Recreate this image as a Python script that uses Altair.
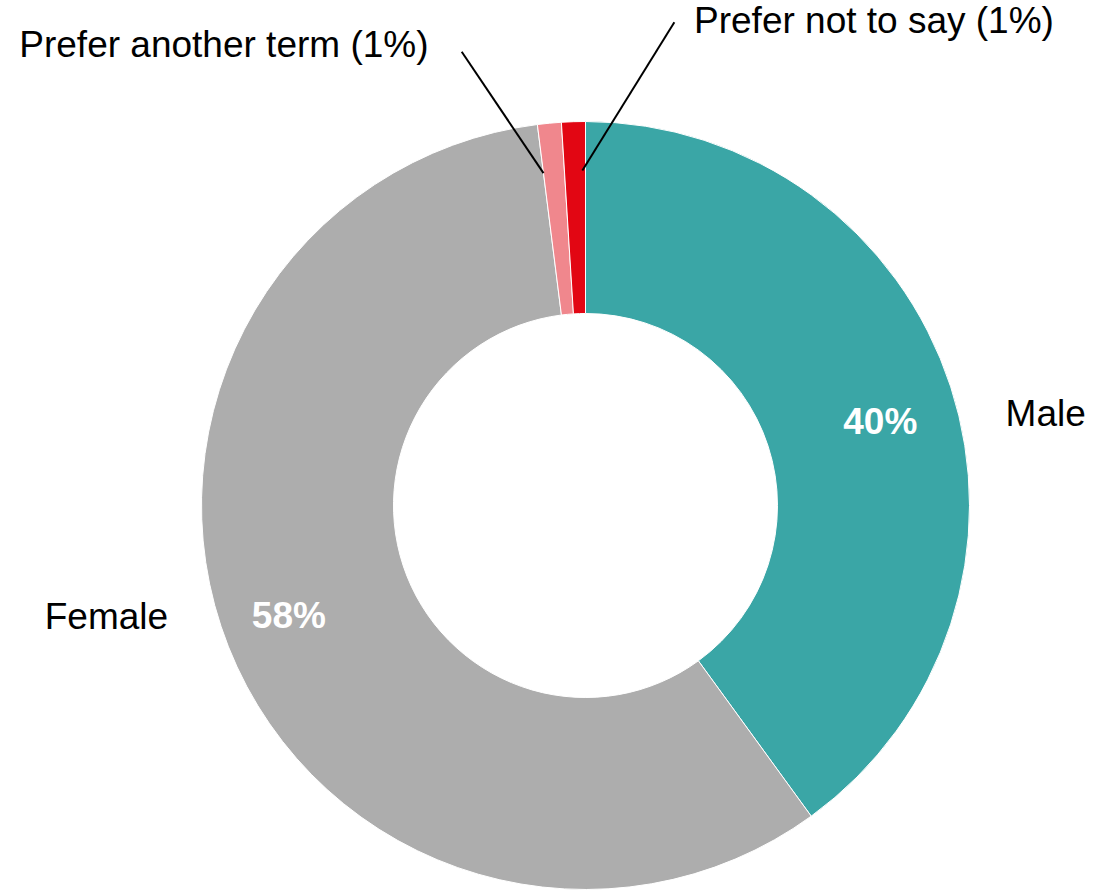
import math
import altair as alt
import pandas as pd

# ---- data ----
categories = ["Male", "Female", "Prefer another term", "Prefer not to say"]
values = [40, 58, 1, 1]
colors = ["#3AA6A6", "#ADADAD", "#F0878D", "#E20613"]

df = pd.DataFrame({"cat": categories, "value": values, "idx": list(range(len(categories)))})

# ---- layout ----
W, H = 1094, 891
CX, CY = 585.5, 505.5
R_OUT, R_IN = 384, 192
FONT = "Liberation Sans"
FS = 37

theta_scale = alt.Scale(domain=[0, 1], range=[0, 2 * math.pi])

base = (
    alt.Chart(df)
    .transform_window(cum="sum(value)", sort=[alt.SortField("idx", order="ascending")], frame=[None, 0])
    .transform_joinaggregate(total="sum(value)")
    .transform_calculate(
        start="(datum.cum - datum.value) / datum.total",
        end="datum.cum / datum.total",
        mid="(datum.cum - datum.value / 2) / datum.total",
        pct="format(datum.value / datum.total, '.0%')",
    )
    .transform_calculate(label="datum.cat + ' (' + datum.pct + ')'")
)

arcs = base.mark_arc(outerRadius=R_OUT, innerRadius=R_IN, stroke="white", strokeWidth=1).encode(
    theta=alt.Theta("start:Q", scale=theta_scale, stack=None),
    theta2=alt.Theta2("end:Q"),
    color=alt.Color("cat:N", scale=alt.Scale(domain=categories, range=colors), legend=None),
    x=alt.value(CX),
    y=alt.value(CY),
)


def polar_label(cat, field, radius, dx, dy, align, bold, color):
    return (
        base.transform_filter(alt.datum.cat == cat)
        .mark_text(
            radius=radius, dx=dx, dy=dy, align=align, baseline="alphabetic",
            font=FONT, fontSize=FS, fontWeight="bold" if bold else "normal", color=color,
        )
        .encode(
            theta=alt.Theta("mid:Q", scale=theta_scale, stack=None),
            text=alt.Text(f"{field}:N"),
            x=alt.value(CX),
            y=alt.value(CY),
        )
    )


def leader(cat, frac, r, edx, edy, ldx, ldy, align):
    b = (
        base.transform_filter(alt.datum.cat == cat)
        .transform_calculate(a=f"2*PI*(datum.start + {frac}*(datum.end - datum.start))")
        .transform_calculate(sx=f"{CX} + {r}*sin(datum.a)", sy=f"{CY} - {r}*cos(datum.a)")
        .transform_calculate(
            ex=f"datum.sx + ({edx})", ey=f"datum.sy + ({edy})",
            lx=f"datum.sx + ({ldx})", ly=f"datum.sy + ({ldy})",
        )
    )
    line = b.mark_rule(color="black", strokeWidth=2).encode(
        x=alt.X("sx:Q", scale=None, axis=None),
        y=alt.Y("sy:Q", scale=None, axis=None),
        x2="ex:Q",
        y2="ey:Q",
    )
    txt = b.mark_text(align=align, baseline="alphabetic", font=FONT, fontSize=FS, color="black").encode(
        x=alt.X("lx:Q", scale=None, axis=None),
        y=alt.Y("ly:Q", scale=None, axis=None),
        text="label:N",
    )
    return line + txt


layers = [
    arcs,
    polar_label("Male", "pct", 310, 0, 24, "center", True, "white"),
    polar_label("Female", "pct", 319, 0, 5, "center", True, "white"),
    polar_label("Male", "cat", 440, 1.6, 56, "left", False, "black"),
    polar_label("Female", "cat", 450, 1, -42, "right", False, "black"),
    leader("Prefer another term", 0.0, 335, -81.8, -121.4, -115, -116.6, "right"),
    leader("Prefer not to say", 0.85, 335, 92, -148.3, 111.7, -137.3, "left"),
]

chart = (
    alt.layer(*layers)
    .properties(width=W, height=H, padding=0, autosize=alt.AutoSizeParams(type="none"), background="white")
    .configure_view(stroke=None)
)

chart.save("out.html", embed_options={"renderer": "svg", "actions": False})
